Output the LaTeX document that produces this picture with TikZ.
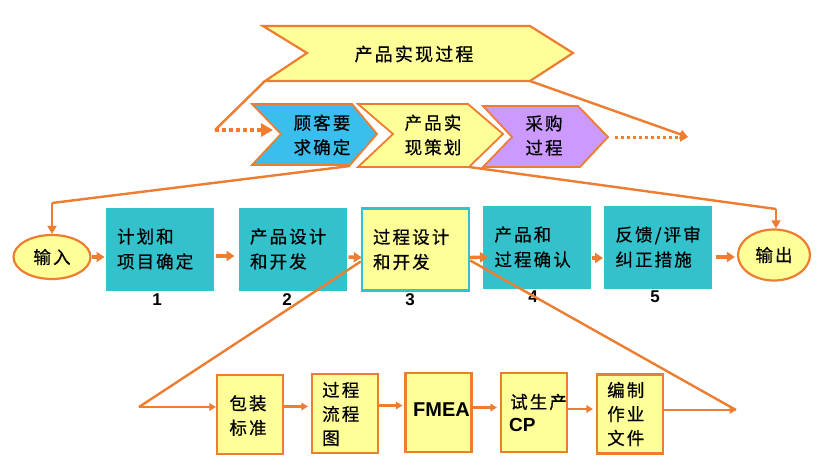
\documentclass[tikz,border=0pt]{standalone}
\usepackage{fontspec}
\usetikzlibrary{arrows.meta,shapes.geometric}
\newfontfamily\cjk{Noto Sans CJK SC}[LetterSpace=12,FakeBold=0.6]
\newfontfamily\numfont{Liberation Sans}
\definecolor{lineor}{RGB}{237,125,49}
\definecolor{cyanF}{RGB}{51,194,204}
\definecolor{skyF}{RGB}{58,190,238}
\definecolor{yellowF}{RGB}{255,255,153}
\definecolor{purpleF}{RGB}{204,153,255}
\begin{document}
\begin{tikzpicture}[x=1pt,y=-1pt,
  cjkt/.style={font=\cjk\fontsize{17.5}{24.5}\selectfont, inner sep=0pt, align=center},
  chevline/.style={draw=lineor, line width=1.8pt, line join=miter},
  bigarrow/.style={draw=lineor, line width=3.4pt, -{Triangle[length=8pt,width=10pt]}},
  thinline/.style={draw=lineor, line width=2.4pt},
  thinarrow/.style={draw=lineor, line width=2.4pt, -{Triangle[length=8pt,width=9pt]}},
  smallarrow/.style={draw=lineor, line width=2.2pt, -{Triangle[length=6.5pt,width=7.5pt]}},
  dotarrow/.style={draw=lineor, line width=3.5pt, dash pattern=on 4pt off 3pt, -{Triangle[length=12pt,width=13pt]}},
  cybox/.style={fill=cyanF, draw=cyanF, line width=1pt, minimum width=107pt, minimum height=82pt,
     text width=85pt, inner xsep=11pt, align=left, font=\cjk\fontsize{17.5}{25}\selectfont},
  ybox/.style={fill=yellowF, draw=lineor, line width=2.2pt, minimum width=66pt, minimum height=79pt, inner sep=0pt},
  numt/.style={font=\numfont\bfseries\fontsize{17}{20}\selectfont, inner sep=0pt},
  ell/.style={ellipse, fill=yellowF, draw=lineor, line width=2.2pt, inner sep=0pt, font=\cjk\fontsize{17.5}{20}\selectfont}
]
\useasboundingbox (0,0) rectangle (828,469);
\fill[white] (0,0) rectangle (828,469);

% ---------- coordinates ----------
\coordinate (bnBL) at (265,81);
\coordinate (bnBR) at (530,81);
\coordinate (d1) at (215,130);
\coordinate (d1e) at (273,130);
\coordinate (d2) at (615,137);
\coordinate (d2e) at (688,137);
\coordinate (chL) at (350,166);
\coordinate (chR) at (469,167);
\coordinate (k1) at (52,203);
\coordinate (k2) at (776,209);
\coordinate (cL) at (139,407);
\coordinate (cR) at (736,410);

% ---------- row 3 nodes ----------
\node[ell, minimum width=77pt, minimum height=44pt] (in) at (52,257) {输入};
\node[cybox] (b1) at (159.5,249) {计划和\\项目确定};
\node[cybox] (b2) at (292.5,249) {产品设计\\和开发};
\node[cybox, fill=yellowF, draw=cyanF, line width=2.5pt] (b3) at (415.5,249.5) {过程设计\\和开发};
\node[cybox] (b4) at (537,247) {产品和\\过程确认};
\node[cybox] (b5) at (658,247) {反馈/评审\\纠正措施};
\node[ell, minimum width=72pt, minimum height=51pt] (out) at (774,255) {输出};

\node[numt] (n1) at (157,300) {1};
\node[numt] (n2) at (287,300) {2};
\node[numt] (n3) at (410,300) {3};
\node[numt] (n4) at (533,297) {4};
\node[numt] (n5) at (655,297) {5};

% ---------- connectors behind ----------
\coordinate (s3L) at ([yshift=-12pt]b3.west);
\coordinate (s3R) at ([yshift=-11pt]b3.east);

\draw[thinline] (s3L) -- (cL);
\draw[thinline] (s3R) -- (cR);
\draw[thinline] (chL) -- (k1);
\draw[thinarrow] (k1) -- (k1 |- in.north);
\draw[thinline] (chR) -- (k2);
\draw[thinarrow] (k2) -- (k2 |- out.north);

% ---------- bottom row ----------
\node[ybox] (p1) at (250,414.5) {};
\node[ybox] (p2) at (345,413.5) {};
\node[ybox] (p3) at (438.5,412.5) {};
\node[ybox] (p4) at (534,412.5) {};
\node[ybox] (p5) at (630,414) {};

\node[cjkt] (t1) at (248,415.5) {包装\\标准};
\node[cjkt, align=left, anchor=west, font=\cjk\fontsize{17.5}{24}\selectfont] (t2) at (322,414) {过程\\流程\\图};
\node[anchor=west, inner sep=0pt, font=\numfont\bfseries\fontsize{20}{22}\selectfont] (t3) at (413,410) {FMEA};
\node[cjkt, anchor=west] (t4a) at (510,402) {试生产};
\node[anchor=west, inner sep=0pt, font=\numfont\bfseries\fontsize{19}{22}\selectfont] (t4b) at (509,425) {CP};
\node[cjkt, align=left, anchor=west, font=\cjk\fontsize{17.5}{24}\selectfont] (t5) at (607,414) {编制\\作业\\文件};

\draw[smallarrow] (cL) -- (cL -| p1.west);
\draw[smallarrow] ([yshift=8pt]p1.east) -- ([yshift=8pt,xshift=-3pt]p2.west |- p1.east);
\draw[smallarrow] ([yshift=8pt]p2.east) -- ([yshift=8pt,xshift=-2pt]p3.west |- p2.east);
\draw[smallarrow] ([yshift=5pt]p3.east) -- ([yshift=5pt,xshift=-3pt]p4.west |- p3.east);
\draw[smallarrow] ([yshift=3.5pt]p4.east) -- ([yshift=3.5pt,xshift=-3pt]p5.west |- p4.east);
\draw[smallarrow] (p5.east |- cR) -- (cR);

% ---------- row 3 arrows ----------
\draw[bigarrow] (in.east) -- ([xshift=-1pt]b1.west |- in.east);
\draw[bigarrow] ([xshift=2pt,yshift=-7pt]b1.east) -- ([xshift=-4pt,yshift=-7pt]b2.west);
\draw[bigarrow] ([xshift=2pt,yshift=-8pt]b2.east) -- ([xshift=1pt,yshift=-8pt]b3.west);
\draw[bigarrow] ([xshift=-1pt,yshift=-8pt]b3.east) -- ([xshift=5pt,yshift=-10pt]b4.west);
\draw[bigarrow] ([xshift=1pt,yshift=-11pt]b4.east) -- ([xshift=-1pt,yshift=-11pt]b5.west);
\draw[bigarrow] ([xshift=4pt,yshift=-10pt]b5.east) -- ([xshift=-2pt,yshift=-10pt]b5.east -| out.west);

% ---------- banner ----------
\draw[thinline] (bnBL) -- (d1);
\draw[dotarrow] (d1) -- (d1e);
\draw[thinarrow] (bnBR) -- (d2e);
\draw[draw=lineor, line width=3pt, dash pattern=on 3pt off 3pt, -{Triangle[length=8pt,width=9pt]}] (d2) -- (d2e);

\draw[chevline, line width=2.2pt, fill=yellowF] (263,26) -- (530,26) -- (573,53) -- (bnBR) -- (bnBL) -- (307,53) -- cycle;
\node[cjkt, font=\cjk\fontsize{18}{20}\selectfont] (title) at (414,54) {产品实现过程};

\draw[chevline, fill=skyF] (252,104) -- (352,104) -- (377,134) -- (350,165) -- (252,165) -- (281,134) -- cycle;
\draw[chevline, fill=yellowF] (358,104) -- (468,104) -- (503,134) -- (469,167) -- (358,167) -- (393,134) -- cycle;
\draw[chevline, fill=purpleF] (483,106) -- (578,106) -- (608,137) -- (580,167) -- (483,167) -- (512,137) -- cycle;

\node[cjkt] (c1) at (322,135) {顾客要\\求确定};
\node[cjkt] (c2) at (433,135) {产品实\\现策划};
\node[cjkt] (c3) at (544,135.5) {采购\\过程};
\end{tikzpicture}
\end{document}
